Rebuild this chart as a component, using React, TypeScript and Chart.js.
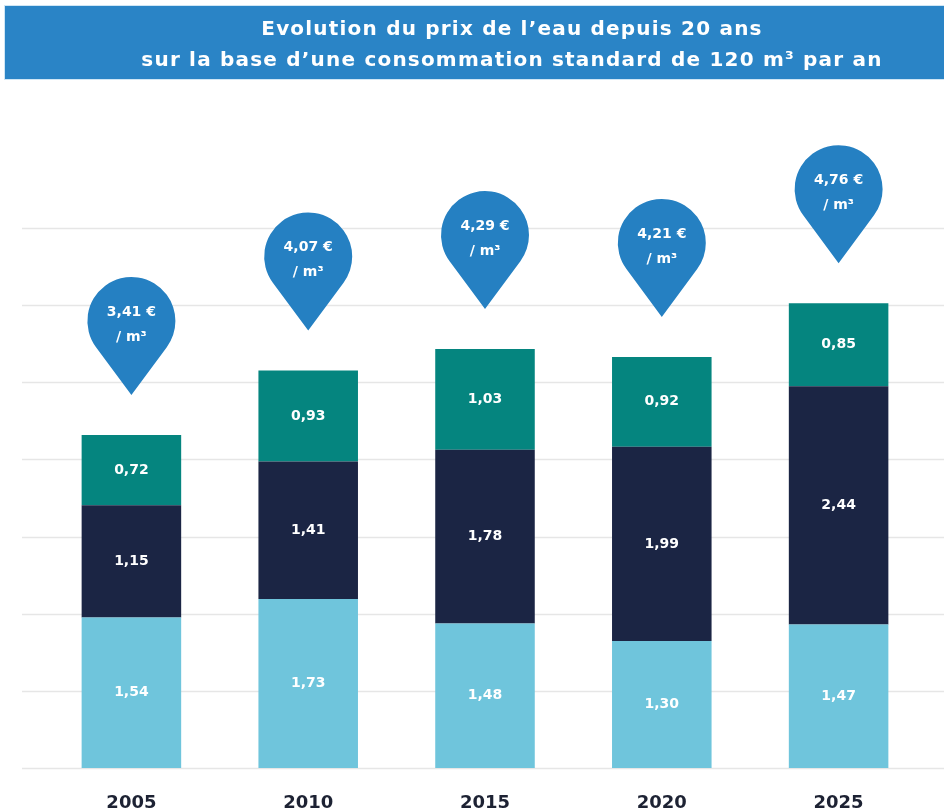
import React, { useEffect, useRef } from "react";
import { Chart, registerables } from "chart.js";

Chart.register(...registerables);

// ---- data ----
const years = ["2005", "2010", "2015", "2020", "2025"];
const seriesBase = [1.54, 1.73, 1.48, 1.3, 1.47];
const seriesMiddle = [1.15, 1.41, 1.78, 1.99, 2.44];
const seriesTop = [0.72, 0.93, 1.03, 0.92, 0.85];
const titleLines = [
  "Evolution du prix de l’eau depuis 20 ans",
  "sur la base d’une consommation standard de 120 m³ par an",
];
const pinUnit = "/ m³";
const gridStep = 0.79;
const gridCount = 7;

// ---- styles ----
const COLOR_BASE = "#6fc5dc";
const COLOR_MIDDLE = "#1b2544";
const COLOR_TOP = "#05857f";
const COLOR_PIN = "#2580c2";
const COLOR_BANNER = "#2a84c6";
const FONT = "'DejaVu Sans', 'Open Sans', sans-serif";

const fmt = (v: number) => v.toFixed(2).replace(".", ",");

const gridPlugin = {
  id: "wideGrid",
  beforeDatasetsDraw(chart: any) {
    const ctx = chart.ctx;
    const y = chart.scales.y;
    ctx.save();
    ctx.strokeStyle = "#e6e6e6";
    ctx.lineWidth = 1.5;
    for (let k = 0; k <= gridCount; k++) {
      const py = Math.round(y.getPixelForValue(k * gridStep)) + 0.5;
      ctx.beginPath();
      ctx.moveTo(22, py);
      ctx.lineTo(chart.width, py);
      ctx.stroke();
    }
    ctx.restore();
  },
};

const labelPlugin = {
  id: "segLabels",
  afterDatasetsDraw(chart: any) {
    const ctx = chart.ctx;
    ctx.save();
    ctx.fillStyle = "#ffffff";
    ctx.font = `bold 14px ${FONT}`;
    ctx.textAlign = "center";
    ctx.textBaseline = "middle";
    chart.data.datasets.forEach((ds: any, di: number) => {
      const meta = chart.getDatasetMeta(di);
      meta.data.forEach((bar: any, i: number) => {
        const cy = (bar.y + bar.base) / 2;
        ctx.fillText(fmt(ds.data[i]), bar.x, cy);
      });
    });
    ctx.restore();
  },
};

const pinPlugin = {
  id: "pins",
  afterDatasetsDraw(chart: any) {
    const ctx = chart.ctx;
    const x = chart.scales.x;
    const y = chart.scales.y;
    const r = 44;
    const d = 74;
    const a = Math.acos(r / d);
    years.forEach((_, i) => {
      const total = seriesBase[i] + seriesMiddle[i] + seriesTop[i];
      const cx = x.getPixelForValue(i);
      const top = y.getPixelForValue(total);
      const tipY = top - 40;
      const cy = tipY - d;
      ctx.save();
      ctx.fillStyle = COLOR_PIN;
      ctx.beginPath();
      ctx.moveTo(cx, tipY);
      ctx.arc(cx, cy, r, Math.PI / 2 + a, Math.PI / 2 - a + Math.PI * 2);
      ctx.closePath();
      ctx.fill();
      ctx.fillStyle = "#ffffff";
      ctx.font = `bold 14px ${FONT}`;
      ctx.textAlign = "center";
      ctx.textBaseline = "middle";
      ctx.fillText(`${fmt(total)} €`, cx, cy - 9);
      ctx.fillText(pinUnit, cx, cy + 16);
      ctx.restore();
    });
  },
};

export default function App() {
  const canvasRef = useRef<HTMLCanvasElement | null>(null);

  useEffect(() => {
    if (!canvasRef.current) return;
    const chart = new Chart(canvasRef.current, {
      type: "bar",
      data: {
        labels: years,
        datasets: [
          { label: "Part 1", data: seriesBase, backgroundColor: COLOR_BASE },
          { label: "Part 2", data: seriesMiddle, backgroundColor: COLOR_MIDDLE },
          { label: "Part 3", data: seriesTop, backgroundColor: COLOR_TOP },
        ],
      },
      options: {
        responsive: false,
        animation: false,
        layout: { padding: { left: 43, right: 17, top: 228, bottom: 0 } },
        datasets: {
          bar: { barPercentage: 0.563, categoryPercentage: 1, borderWidth: 0 },
        },
        plugins: {
          legend: { display: false },
          tooltip: { enabled: false },
          title: { display: false },
        },
        scales: {
          x: {
            stacked: true,
            grid: { display: false, drawTicks: false },
            border: { display: false },
            ticks: {
              color: "#1d2233",
              padding: 26,
              font: { family: FONT, size: 18, weight: "bold", lineHeight: 1 },
            },
          },
          y: {
            stacked: true,
            display: false,
            min: 0,
            max: gridStep * gridCount,
          },
        },
      },
      plugins: [gridPlugin, labelPlugin, pinPlugin],
    });
    return () => chart.destroy();
  }, []);

  return (
    <div
      style={{
        position: "fixed",
        left: 0,
        top: 0,
        width: 944,
        height: 812,
        overflow: "hidden",
        background: "#ffffff",
      }}
    >
      <canvas
        ref={canvasRef}
        width={944}
        height={838}
        style={{ position: "absolute", left: 0, top: 0, width: 944, height: 838 }}
      />
      <div
        style={{
          position: "absolute",
          left: 5,
          top: 6,
          width: 1100,
          height: 73,
          background: COLOR_BANNER,
          boxShadow: "0 0 0 1px #cfe6f5",
        }}
      />
      <div
        style={{
          position: "absolute",
          left: 0,
          top: 13,
          width: 1024,
          textAlign: "center",
          color: "#ffffff",
          fontFamily: FONT,
          fontWeight: "bold",
          fontSize: 20,
          letterSpacing: "1.2px",
          lineHeight: "31px",
        }}
      >
        <div>{titleLines[0]}</div>
        <div>{titleLines[1]}</div>
      </div>
    </div>
  );
}
